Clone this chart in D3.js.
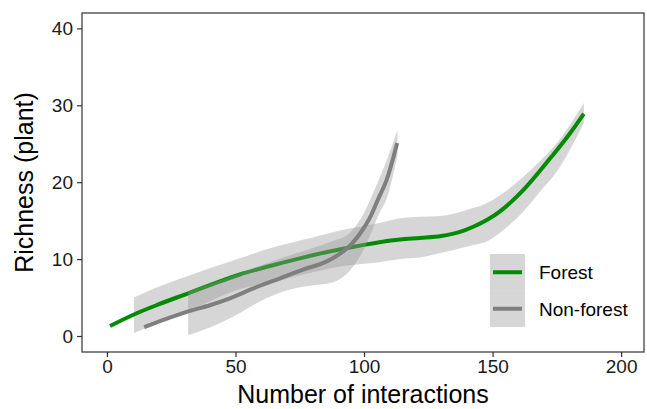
<!DOCTYPE html>
<html lang="en">
<head>
    <meta charset="UTF-8">
    <title>Richness vs interactions</title>
    <script src="https://d3js.org/d3.v7.min.js"></script>
    <style>
        body { margin: 0; background: #fff; }
        text { font-family: "Liberation Sans", Arial, sans-serif; }
    </style>
</head>
<body>
<script>
    // values
    const groups = ["Forest", "Non-forest"]
    const colors = ["#008b00", "#7f7f7f"]

    // fitted line, Forest
    const forestX = [1.2, 10.5, 20, 31.6, 40, 51.7, 63.4, 73.8, 80, 91.9, 106, 114, 121.7, 130, 137, 142.5, 152.9, 162, 172.4, 180, 185.5]
    const forestY = [1.3, 2.8, 4.1, 5.55, 6.6, 8.0, 9.1, 10.0, 10.5, 11.35, 12.2, 12.55, 12.75, 13.0, 13.5, 14.2, 16.2, 19.0, 23.1, 26.3, 28.9]
    // confidence band, Forest
    const forestBandX = [10.5, 20, 31.6, 40, 51.7, 63.4, 80, 91.9, 106, 114, 121.7, 129.6, 139.9, 149, 155, 162, 168, 175, 185.5]
    const forestLo = [0.4, 1.7, 3.3, 4.5, 6.1, 6.9, 8.3, 9.1, 9.6, 10.0, 10.2, 10.8, 11.6, 12.5, 14.0, 16.2, 18.6, 21.4, 27.7]
    const forestHi = [5.0, 6.4, 7.8, 8.8, 10.1, 11.4, 12.8, 13.8, 14.7, 15.3, 15.5, 15.6, 16.4, 17.5, 18.8, 20.7, 22.6, 25.1, 30.3]

    // fitted line, Non-forest
    const nonX = [14.5, 22, 31.6, 40, 47.8, 57, 67.3, 76, 85.5, 91.9, 95, 98.4, 102.3, 105.5, 108.8, 112.9]
    const nonY = [1.15, 2.1, 3.2, 4.0, 4.9, 6.2, 7.5, 8.6, 9.7, 11.0, 11.9, 13.3, 15.4, 17.8, 20.3, 25.1]
    // confidence band, Non-forest
    const nonBandX = [31.6, 40, 51.7, 60, 68.6, 78, 88, 93, 97, 100, 103, 106, 109, 113]
    const nonLo = [0.1, 1.1, 3.0, 4.6, 5.8, 6.5, 7.0, 8.0, 9.6, 11.3, 13.6, 16.0, 18.0, 23.5]
    const nonHi = [5.8, 6.8, 8.2, 9.2, 10.2, 11.2, 12.4, 13.0, 14.4, 16.0, 18.2, 20.5, 23.0, 26.8]

    const xTicks = [0, 50, 100, 150, 200]
    const yTicks = [0, 10, 20, 30, 40]

    const W = 647, H = 409
    const panelL = 82, panelR = 644, panelT = 13, panelB = 352

    const svg = d3.select("body").append("svg")
        .attr("width", W)
        .attr("height", H)

    const x = d3.scaleLinear().domain([-9.7, 208.9]).range([panelL, panelR])
    const y = d3.scaleLinear().domain([-2.08, 42]).range([panelB, panelT])

    const series = [
        {
            line: forestX.map((v, i) => [v, forestY[i]]),
            band: forestBandX.map((v, i) => [v, forestLo[i], forestHi[i]])
        },
        {
            line: nonX.map((v, i) => [v, nonY[i]]),
            band: nonBandX.map((v, i) => [v, nonLo[i], nonHi[i]])
        }
    ]

    const area = d3.area()
        .x(d => x(d[0]))
        .y0(d => y(d[1]))
        .y1(d => y(d[2]))
        .curve(d3.curveMonotoneX)

    const line = d3.line()
        .x(d => x(d[0]))
        .y(d => y(d[1]))
        .curve(d3.curveMonotoneX)

    const plot = svg.append("g")

    // ribbon then line, one group after the other (like geom_smooth)
    series.forEach((s, i) => {
        plot.append("path")
            .attr("d", area(s.band))
            .attr("fill", "#999999")
            .attr("fill-opacity", 0.4)

        plot.append("path")
            .attr("d", line(s.line))
            .attr("fill", "none")
            .attr("stroke", colors[i])
            .attr("stroke-width", 4)
    })

    // panel border
    svg.append("rect")
        .attr("x", panelL)
        .attr("y", panelT)
        .attr("width", panelR - panelL)
        .attr("height", panelB - panelT)
        .attr("fill", "none")
        .attr("stroke", "#333")
        .attr("stroke-width", 1.2)

    const xAxis = svg.append("g")
        .attr("transform", `translate(0, ${panelB})`)
        .call(d3.axisBottom(x).tickValues(xTicks).tickSize(5).tickPadding(3))
    xAxis.select(".domain").remove()

    const yAxis = svg.append("g")
        .attr("transform", `translate(${panelL}, 0)`)
        .call(d3.axisLeft(y).tickValues(yTicks).tickSize(5).tickPadding(4))
    yAxis.select(".domain").remove()

    svg.selectAll(".tick line").attr("stroke", "#333").attr("stroke-width", 1.2)
    svg.selectAll(".tick text")
        .attr("fill", "#1a1a1a")
        .style("font-size", "19px")
        .style("font-family", "'Liberation Sans', Arial, sans-serif")

    svg.append("text")
        .attr("x", (panelL + panelR) / 2)
        .attr("y", 403)
        .attr("text-anchor", "middle")
        .attr("fill", "#000")
        .style("font-size", "25px")
        .text("Number of interactions")

    svg.append("text")
        .attr("transform", `translate(33, ${(panelT + panelB) / 2}) rotate(-90)`)
        .attr("text-anchor", "middle")
        .attr("fill", "#000")
        .style("font-size", "25px")
        .text("Richness (plant)")

    // legend
    const legend = svg.append("g").attr("transform", "translate(490, 254)")
    const keyH = 36.5
    groups.forEach((g, i) => {
        const k = legend.append("g").attr("transform", `translate(0, ${i * keyH})`)
        k.append("rect")
            .attr("width", 35)
            .attr("height", keyH)
            .attr("fill", "#999999")
            .attr("fill-opacity", 0.4)
        k.append("line")
            .attr("x1", 3)
            .attr("x2", 32)
            .attr("y1", keyH / 2)
            .attr("y2", keyH / 2)
            .attr("stroke", colors[i])
            .attr("stroke-width", 4)
        k.append("text")
            .attr("x", 49)
            .attr("y", keyH / 2)
            .attr("dy", "0.36em")
            .attr("fill", "#000")
            .style("font-size", "19px")
            .text(g)
    })
</script>
</body>
</html>
